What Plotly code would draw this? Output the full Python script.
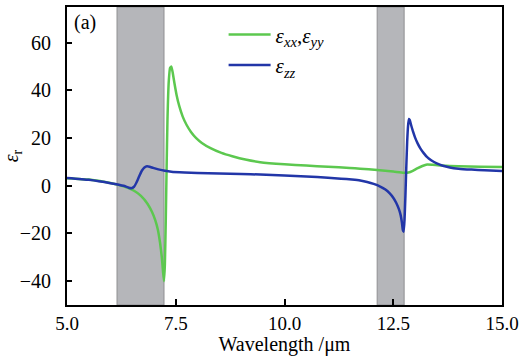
import plotly.graph_objects as go

# eps_xx, eps_yy (green)
wl_xx = [5.0, 5.5, 6.0, 6.2, 6.4, 6.55, 6.7, 6.85, 6.95, 7.03, 7.09, 7.14, 7.18, 7.21, 7.23, 7.25,
         7.27, 7.29, 7.31, 7.34, 7.37, 7.4, 7.43, 7.47, 7.52, 7.58, 7.66, 7.75, 7.85, 7.97, 8.1,
         8.3, 8.55, 8.8, 9.1, 9.44, 10.0, 10.5, 11.0, 11.5, 11.74, 12.13, 12.5, 12.74, 12.85, 12.95,
         13.05, 13.17, 13.28, 13.4, 13.6, 14.0, 14.5, 15.0]
eps_xx = [3.2, 2.6, 1.2, 0.3, -0.9, -2.2, -4.2, -7.5, -10.8, -14.5, -18.5, -24.0, -30.0, -36.5, -40.0, -33.0,
          -15.0, 8.0, 28.0, 44.0, 49.5, 50.0, 47.5, 43.0, 38.0, 33.5, 29.0, 25.5, 22.6, 20.0, 18.0,
          15.8, 13.8, 12.4, 11.0, 9.9, 9.0, 8.5, 8.0, 7.5, 7.2, 6.6, 6.0, 5.5, 5.6, 6.3,
          7.3, 8.3, 8.9, 8.8, 8.5, 8.2, 8.0, 7.9]

# eps_zz (blue)
wl_zz = [5.0, 5.5, 6.0, 6.3, 6.42, 6.48, 6.54, 6.6, 6.66, 6.72, 6.78, 6.84, 6.9, 6.98, 7.1, 7.25,
         7.4, 7.7, 8.0, 8.5, 9.0, 9.44, 10.0, 10.5, 11.0, 11.3, 11.55, 11.74, 11.9, 12.05, 12.2,
         12.32, 12.42, 12.5, 12.57, 12.63, 12.67, 12.7, 12.72, 12.74, 12.76, 12.78, 12.8, 12.82,
         12.84, 12.86, 12.88, 12.91, 12.95, 13.0, 13.06, 13.13, 13.2, 13.28, 13.38, 13.5, 13.64,
         13.8, 14.0, 14.3, 14.6, 15.0]
eps_zz = [3.3, 2.5, 1.1, 0.0, -0.8, -1.0, -0.4, 1.5, 4.0, 6.3, 7.7, 8.2, 8.0, 7.5, 6.9, 6.3,
          5.9, 5.6, 5.4, 5.2, 5.0, 4.7, 4.3, 3.9, 3.4, 3.0, 2.6, 2.2, 1.6, 0.8, -0.3,
          -1.6, -3.2, -5.0, -7.2, -9.8, -12.3, -15.5, -18.5, -19.3, -14.0, -4.0, 8.0, 18.5,
          25.0, 28.0, 27.6, 25.5, 23.0, 20.3, 17.8, 15.5, 13.7, 12.0, 10.6, 9.4, 8.4,
          7.7, 7.2, 6.8, 6.5, 6.2]

band_starts = [6.15, 12.13]
band_ends = [7.23, 12.75]

x_ticks = [5.0, 7.5, 10.0, 12.5, 15.0]
x_ticklabels = ["5.0", "7.5", "10.0", "12.5", "15.0"]
y_ticks = [-40, -20, 0, 20, 40, 60]
y_ticklabels = ["\u221240", "\u221220", "0", "20", "40", "60"]

FONT = "Liberation Serif"
GREEN = "#5cc84f"
BLUE = "#2236a8"

fig = go.Figure()
fig.update_layout(template="none")
for s, e in zip(band_starts, band_ends):
    fig.add_shape(type="rect", xref="x", yref="paper", x0=s, x1=e, y0=0, y1=1,
                  fillcolor="#b5b6ba", line=dict(color="#8f8f92", width=1), layer="below")

fig.add_trace(go.Scatter(x=wl_xx, y=eps_xx, mode="lines",
                         line=dict(color=GREEN, width=2.5, shape="spline", smoothing=0.4),
                         name="<i>ε</i><sub><i>xx</i></sub>,<i>ε</i><sub><i>yy</i></sub>"))
fig.add_trace(go.Scatter(x=wl_zz, y=eps_zz, mode="lines",
                         line=dict(color=BLUE, width=2.5, shape="spline", smoothing=0.4),
                         name="<i>ε</i><sub><i>zz</i></sub>"))

fig.add_annotation(text="(a)", xref="paper", yref="paper", x=0.012, y=0.992,
                   xanchor="left", yanchor="top", showarrow=False,
                   font=dict(family=FONT, size=20, color="black"))

fig.update_layout(
    width=519, height=356,
    margin=dict(l=67, r=17, t=7, b=51, autoexpand=False),
    plot_bgcolor="white", paper_bgcolor="white",
    font=dict(family=FONT, size=20, color="black"),
    showlegend=True,
    legend=dict(x=0.36, y=0.975, xanchor="left", yanchor="top", bgcolor="rgba(0,0,0,0)",
                font=dict(family=FONT, size=21), tracegroupgap=0, itemwidth=42),
)
fig.update_xaxes(range=[5, 15], tickvals=x_ticks, ticktext=x_ticklabels, automargin=False,
                 showline=True, linecolor="black", linewidth=2, mirror=True,
                 ticks="inside", ticklen=6, tickwidth=1.5, tickcolor="black",
                 showgrid=False, zeroline=False, ticklabelstandoff=0,
                 ticklabeloverflow="allow", tickfont=dict(family=FONT, size=19),
                 title=dict(text="Wavelength /μm", standoff=3, font=dict(family=FONT, size=20)))
fig.update_yaxes(range=[-50, 75], tickvals=y_ticks, ticktext=y_ticklabels, automargin=False,
                 showline=True, linecolor="black", linewidth=2, mirror=True,
                 ticks="inside", ticklen=5, tickwidth=1.5, tickcolor="black",
                 showgrid=False, zeroline=False, ticklabelstandoff=10,
                 tickfont=dict(family=FONT, size=20),
                 title=dict(text="<i>ε</i><sub>r</sub>", standoff=8, font=dict(family=FONT, size=20)))

fig.write_html("out.html")
